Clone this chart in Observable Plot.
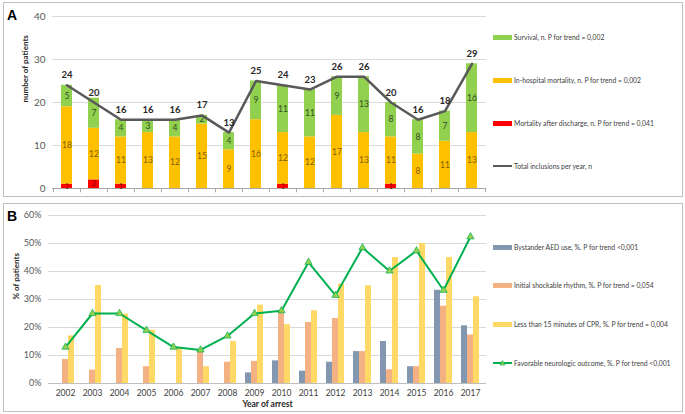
<!DOCTYPE html>
<html><head><meta charset="utf-8">
<script src="https://cdn.jsdelivr.net/npm/d3@7"></script>
<script src="https://cdn.jsdelivr.net/npm/@observablehq/plot@0.6"></script>
<style>
body{margin:0;background:#fff;font-family:Lato,"Liberation Sans",sans-serif;}
#wrap{position:relative;width:685px;height:414px;overflow:hidden;background:#fff;}
.box{position:absolute;border:1px solid #bfbfbf;box-sizing:border-box;}
.panel{position:absolute;left:0;}
.letter{position:absolute;font:bold 14px "Liberation Sans",Arial,sans-serif;color:#000;}
.leg{position:absolute;left:493px;font-size:6.8px;color:#404040;white-space:nowrap;display:flex;align-items:center;height:10px;}
.sw{display:inline-block;width:19px;height:5px;margin-right:2px;}
</style></head><body><div id="wrap"></div>
<script>
const years = [2002,2003,2004,2005,2006,2007,2008,2009,2010,2011,2012,2013,2014,2015,2016,2017];
// Panel A
const afterDischarge = [1,2,1,0,0,0,0,0,1,0,0,0,1,0,0,0];
const inHospital = [18,12,11,13,12,15,9,16,12,12,17,13,11,8,11,13];
const survival = [5,7,4,3,4,2,4,9,11,11,9,13,8,8,7,16];
const totals = [24,20,16,16,16,17,13,25,24,23,26,26,20,16,18,29];
const seriesA = ["Mortality after discharge, n. P for trend = 0,041","In-hospital mortality, n. P for trend = 0,002","Survival, n. P for trend = 0,002"];
const totalLabel = "Total inclusions per year, n";
// Panel B (%)
const aed = [null,null,null,null,null,null,null,3.8,8.1,4.4,7.6,11.4,15,6,33.3,20.6];
const shockable = [8.6,4.8,12.5,6,null,11.8,7.6,7.9,25.7,21.8,23.2,11.4,4.9,6,27.6,17.3];
const cpr = [17,35,24.8,19,12.5,6,15,28,21,26,35.5,34.9,45,50,45,31];
const favorable = [13,25,25,19,13,12,17,25,26,43.3,31.5,48.5,40.2,47.4,33.3,52.4];
const seriesB = ["Bystander AED use, %. P for trend <0,001","Initial shockable rhythm, %. P for trend = 0,054","Less than 15 minutes of CPR, %. P for trend = 0,004","Favorable neurologic outcome, %. P for trend <0,001"];

const colA = ["#ff0000","#ffc000","#92d050"];
const txtA = ["#8b0000","#7f5f00","#2f4f1f"];
const colB = ["#8497b0","#f4b183","#ffd966","#00b050"];

const wrap = document.getElementById("wrap");
const add = (html) => { wrap.insertAdjacentHTML("beforeend", html); };

add('<div class="box" style="left:3px;top:2px;width:680px;height:195px"></div>');
add('<div class="box" style="left:3px;top:203px;width:680px;height:209px"></div>');

// ---- Panel A ----
const longA = [];
years.forEach((y,i)=>{
  [afterDischarge[i], inHospital[i], survival[i]].forEach((v,k)=>longA.push({year:String(y), series:seriesA[k], k, value:v}));
});
const totA = years.map((y,i)=>({year:String(y), total:totals[i]}));
const X = years.map(String);

const plotA = Plot.plot({
  width:685, height:200,
  marginLeft:52, marginRight:199, marginTop:16, marginBottom:12,
  style:{fontFamily:"Lato, sans-serif", background:"transparent", overflow:"visible"},
  x:{domain:X, paddingInner:0.6, paddingOuter:0.3, axis:null},
  y:{domain:[0,40], axis:null},
  color:{domain:seriesA, range:colA},
  marks:[
    Plot.ruleY([10,20,30,40], {stroke:"#d9d9d9", strokeWidth:1}),
    Plot.axisY({ticks:[0,10,20,30,40], tickSize:0, tickPadding:7, fontSize:10, fill:"#595959", label:null}),
    Plot.text(["number of patients"], {frameAnchor:"left", rotate:-90, dx:-27, fontSize:8, fontWeight:"bold", fill:"#262626"}),
    Plot.barY(longA, {x:"year", y:"value", fill:"series", order:seriesA}),
    Plot.ruleY([0], {stroke:"#a6a6a6"}),
    Plot.ruleX(X, {x:d=>d, y1:0, y2:-1, dx:-13.56, stroke:"#a6a6a6"}),
    Plot.ruleX([X[X.length-1]], {x:d=>d, y1:0, y2:-1, dx:13.56, stroke:"#a6a6a6"}),
    Plot.text(longA, Plot.stackY({x:"year", y:"value", z:"series", order:seriesA, text:d=>d.value>0?String(d.value):"", fill:d=>txtA[d.k], fontSize:d=>d.k===0?7:8.5})),
    Plot.line(totA, {x:"year", y:"total", stroke:"#595959", strokeWidth:2.5}),
    Plot.text(totA, {x:"year", y:"total", text:d=>String(d.total), dy:-10, fontSize:9.5, fontWeight:"bold", fill:"#262626"})
  ]
});
plotA.classList.add("panel"); plotA.style.top="0px";
wrap.appendChild(plotA);

// ---- Panel B ----
const longB = [];
years.forEach((y,i)=>{
  [aed[i], shockable[i], cpr[i]].forEach((v,k)=>{ if(v!=null) longB.push({year:String(y), k, value:v}); });
});
const favB = years.map((y,i)=>({year:String(y), v:favorable[i]}));

const plotB = Plot.plot({
  width:685, height:214,
  marginLeft:48, marginRight:199, marginTop:15, marginBottom:31,
  style:{fontFamily:"Lato, sans-serif", background:"transparent", overflow:"visible"},
  x:{domain:X, paddingInner:0.34, paddingOuter:0.17, axis:null},
  y:{domain:[0,60], axis:null},
  marks:[
    Plot.ruleY([10,20,30,40,50,60], {stroke:"#d9d9d9", strokeWidth:1}),
    Plot.axisY({ticks:[0,10,20,30,40,50,60], tickFormat:d=>d+"%", tickSize:0, tickPadding:7, fontSize:9, fill:"#595959", label:null}),
    Plot.axisX({tickSize:0, tickPadding:6, fontSize:8.5, fill:"#404040", label:null}),
    Plot.text(["% of patients"], {frameAnchor:"left", rotate:-90, dx:-32, fontSize:8, fontWeight:"bold", fill:"#262626"}),
    Plot.text(["Year of arrest"], {frameAnchor:"bottom", dy:23, fontSize:8.5, fontWeight:"bold", fill:"#262626"}),
    Plot.barY(longB.filter(d=>d.k===0), {x:"year", y:"value", fill:colB[0], insetLeft:0, insetRight:12}),
    Plot.barY(longB.filter(d=>d.k===1), {x:"year", y:"value", fill:colB[1], insetLeft:6, insetRight:6}),
    Plot.barY(longB.filter(d=>d.k===2), {x:"year", y:"value", fill:colB[2], insetLeft:12, insetRight:0}),
    Plot.ruleY([0], {stroke:"#bfbfbf"}),
    Plot.line(favB, {x:"year", y:"v", stroke:colB[3], strokeWidth:2}),
    Plot.dot(favB, {x:"year", y:"v", symbol:"triangle", r:2.7, fill:"#92d050", stroke:"#00b050", strokeWidth:0.7})
  ]
});
plotB.classList.add("panel"); plotB.style.top="200px";
wrap.appendChild(plotB);

add('<div class="letter" style="left:7px;top:7px">A</div>');
add('<div class="letter" style="left:7px;top:208px">B</div>');

// legends A
const legA = [[seriesA[2], colA[2]],[seriesA[1], colA[1]],[seriesA[0], colA[0]]];
const legAy = [37,80,123];
legA.forEach(([t,c],i)=>add(`<div class="leg" style="top:${legAy[i]-5}px"><span class="sw" style="background:${c}"></span>${t}</div>`));
add(`<div class="leg" style="top:${166-5}px"><span class="sw" style="background:#595959;height:2.5px"></span>${totalLabel}</div>`);

// legends B
const legBy = [247,285,324];
[0,1,2].forEach((k,i)=>add(`<div class="leg" style="top:${legBy[i]-5}px"><span class="sw" style="background:${colB[k]}"></span>${seriesB[k]}</div>`));
add(`<div class="leg" style="top:${363-5}px"><svg width="19" height="8" style="margin-right:2px"><line x1="0" y1="4" x2="19" y2="4" stroke="${colB[3]}" stroke-width="2"/><path d="M9.5,1.5 L12,6 L7,6 Z" fill="#92d050" stroke="#00b050" stroke-width="0.6"/></svg>${seriesB[3]}</div>`);
</script></body></html>
